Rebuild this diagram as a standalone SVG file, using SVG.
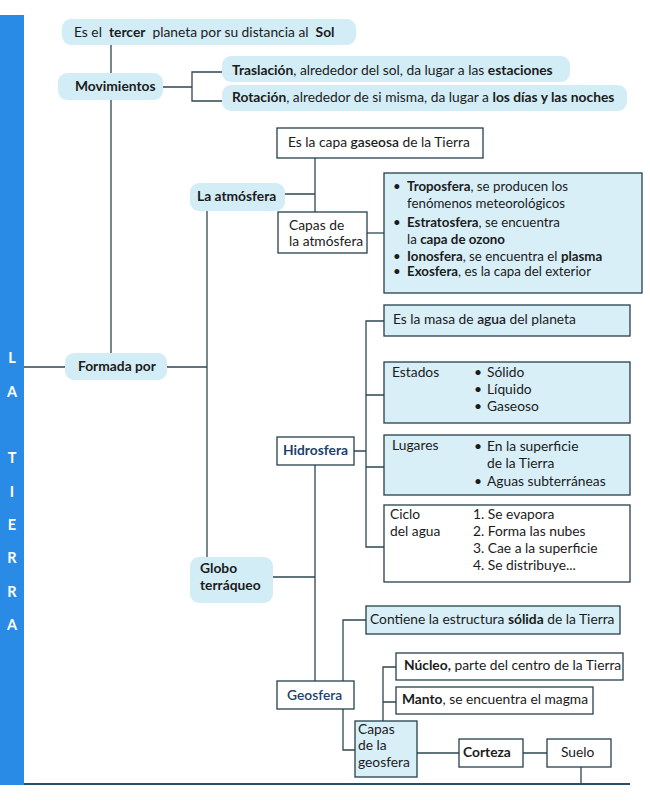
<svg xmlns="http://www.w3.org/2000/svg" width="650" height="809" viewBox="0 0 650 809">
<style>
text{font-family:Lato,"Liberation Sans",sans-serif;font-size:13.8px;fill:#1b1b1b}
.b{font-weight:bold}
.sm{font-size:13.3px}
.pill{fill:#d3edf7;stroke:none}
.bx{fill:#ffffff;stroke:#26404c;stroke-width:1.3}
.bl{fill:#d8eff8;stroke:#26404c;stroke-width:1.3}
.dk{fill:#1d3f6b}
.side{fill:#ffffff;font-weight:bold;font-size:14.5px;text-anchor:middle}
#conn path{fill:none;stroke:#2e4752;stroke-width:1.3}
</style>
<rect width="650" height="809" fill="#ffffff"/>
<g id="sidebar">
<rect x="0" y="15" width="24" height="770" fill="#2a8be6"/>
<text class="side" x="12" y="363">L</text>
<text class="side" x="12" y="397">A</text>
<text class="side" x="12" y="463">T</text>
<text class="side" x="12" y="497">I</text>
<text class="side" x="12" y="530">E</text>
<text class="side" x="12" y="563">R</text>
<text class="side" x="12" y="597">R</text>
<text class="side" x="12" y="630">A</text>
</g>
<g id="conn">
<path d="M111 45V73M111 100V353"/>
<path d="M163 87H192M222 72H192V101H222"/>
<path d="M24 367H65M167 367H207"/>
<path d="M207 211V557"/>
<path d="M285 194H315M315 158V212"/>
<path d="M367 233H384"/>
<path d="M354 451H366M384 321H366V547H384M366 395H384M366 467H384"/>
<path d="M315 465V681M273 577H315"/>
<path d="M343 681V620H366M343 709V750H355"/>
<path d="M383 721V667H396M383 702H396"/>
<path d="M417 753H459M523 753H547M581 767V784"/>
<path d="M24 784H630" style="stroke-width:2;stroke:#24506a"/>
</g>
<g id="n-top"><rect class="pill" x="62" y="19" width="294" height="26" rx="9"/>
<text x="74" y="37" xml:space="preserve">Es el  <tspan class="b">tercer</tspan>  planeta por su distancia al  <tspan class="b">Sol</tspan></text></g>
<g id="n-mov"><rect class="pill" x="58" y="73" width="105" height="27" rx="9"/>
<text class="b" x="75" y="91">Movimientos</text></g>
<g id="n-tras"><rect class="pill" x="222" y="56" width="348" height="26" rx="9"/>
<text x="232" y="75"><tspan class="b">Traslación</tspan>, alrededor del sol, da lugar a las <tspan class="b">estaciones</tspan></text></g>
<g id="n-rot"><rect class="pill" x="222" y="85" width="405" height="26" rx="9"/>
<text x="232" y="102"><tspan class="b">Rotación</tspan>, alrededor de si misma, da lugar a <tspan class="b">los días y las noches</tspan></text></g>
<g id="n-formada"><rect class="pill" x="65" y="353" width="102" height="27" rx="9"/>
<text class="b" x="78" y="371">Formada por</text></g>
<g id="n-atm"><rect class="pill" x="190" y="183" width="95" height="28" rx="9"/>
<text class="b" x="197" y="201">La atmósfera</text></g>
<g id="n-gaseosa"><rect class="bx" x="277" y="128" width="206" height="30"/>
<text x="288" y="147">Es la capa <tspan style="font-weight:600">gaseosa</tspan> de la Tierra</text></g>
<g id="n-capasatm"><rect class="bx" x="278" y="212" width="89" height="41"/>
<text x="289" y="230">Capas de</text><text x="289" y="246">la atmósfera</text></g>
<g id="n-capaslist"><rect class="bl" x="384" y="173" width="258" height="120"/>
<text class="sm" x="393" y="191">•</text><text class="sm" x="407" y="191"><tspan class="b">Troposfera</tspan>, se producen los</text>
<text class="sm" x="407" y="208">fenómenos meteorológicos</text>
<text class="sm" x="393" y="227">•</text><text class="sm" x="407" y="227"><tspan class="b">Estratosfera</tspan>, se encuentra</text>
<text class="sm" x="407" y="244">la <tspan class="b">capa de ozono</tspan></text>
<text class="sm" x="393" y="261">•</text><text class="sm" x="407" y="261"><tspan class="b">Ionosfera</tspan>, se encuentra el <tspan class="b">plasma</tspan></text>
<text class="sm" x="393" y="276">•</text><text class="sm" x="407" y="276"><tspan class="b">Exosfera</tspan>, es la capa del exterior</text></g>
<g id="n-globo"><rect class="pill" x="190" y="557" width="83" height="46" rx="9"/>
<text class="b" x="200" y="573">Globo</text><text class="b" x="200" y="590">terráqueo</text></g>
<g id="n-hidro"><rect class="bx" x="277" y="437" width="77" height="28"/>
<text class="b dk" x="283" y="455">Hidrosfera</text></g>
<g id="n-masa"><rect class="bl" x="384" y="305" width="246" height="31"/>
<text x="393" y="324">Es la masa de <tspan style="font-weight:600">agua</tspan> del planeta</text></g>
<g id="n-estados"><rect class="bl" x="384" y="362" width="246" height="61"/>
<text x="392" y="377">Estados</text>
<text x="474" y="377">•</text><text x="487" y="377">Sólido</text>
<text x="474" y="394">•</text><text x="487" y="394">Líquido</text>
<text x="474" y="411">•</text><text x="487" y="411">Gaseoso</text></g>
<g id="n-lugares"><rect class="bl" x="384" y="435" width="246" height="60"/>
<text x="392" y="450">Lugares</text>
<text x="474" y="451">•</text><text x="487" y="451">En la superficie</text>
<text x="487" y="468">de la Tierra</text>
<text x="474" y="486">•</text><text x="487" y="486">Aguas subterráneas</text></g>
<g id="n-ciclo"><rect class="bx" x="384" y="505" width="246" height="77"/>
<text x="390" y="519">Ciclo</text><text x="390" y="536">del agua</text>
<text x="473" y="519">1.  Se evapora</text>
<text x="473" y="536">2.  Forma las nubes</text>
<text x="473" y="553">3.  Cae a la superficie</text>
<text x="473" y="570">4.  Se distribuye...</text></g>
<g id="n-geo"><rect class="bx" x="277" y="681" width="77" height="28"/>
<text class="dk" x="287" y="700" style="font-weight:600">Geosfera</text></g>
<g id="n-contiene"><rect class="bl" x="366" y="606" width="254" height="28"/>
<text x="370" y="624">Contiene la estructura <tspan class="b">sólida</tspan> de la Tierra</text></g>
<g id="n-nucleo"><rect class="bx" x="396" y="653" width="227" height="27"/>
<text x="404" y="670"><tspan class="b">Núcleo,</tspan> parte del centro de la Tierra</text></g>
<g id="n-manto"><rect class="bx" x="396" y="687" width="197" height="27"/>
<text x="402" y="704"><tspan class="b">Manto</tspan>, se encuentra el magma</text></g>
<g id="n-capasgeo"><rect class="bl" x="355" y="721" width="62" height="56"/>
<text x="358" y="734">Capas</text><text x="358" y="750">de la</text><text x="358" y="767">geosfera</text></g>
<g id="n-corteza"><rect class="bx" x="459" y="739" width="64" height="28"/>
<text class="b" x="463" y="757">Corteza</text></g>
<g id="n-suelo"><rect class="bx" x="547" y="739" width="64" height="28"/>
<text x="561" y="757">Suelo</text></g>
</svg>
